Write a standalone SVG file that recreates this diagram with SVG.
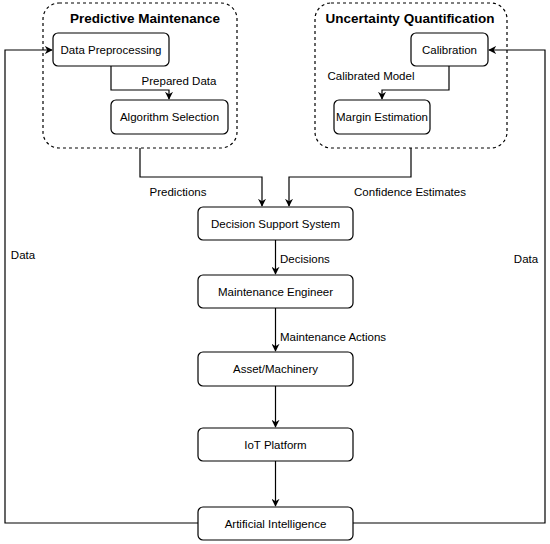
<svg xmlns="http://www.w3.org/2000/svg" width="550" height="544" viewBox="0 0 550 544">
<style>
.node rect{fill:#fff;stroke:#000;stroke-width:1.2}
.cluster rect{fill:none;stroke:#000;stroke-width:1.2;stroke-dasharray:3 3}
text{font-family:"Liberation Sans",Arial,sans-serif;font-size:11.5px;fill:#000}
.t{text-anchor:middle;dominant-baseline:central}
.title{font-weight:bold;font-size:13.5px;text-anchor:middle;dominant-baseline:central}
.edges path{fill:none;stroke:#000;stroke-width:1.2}
</style>
<defs>
<marker id="arr" viewBox="0 0 10 10" refX="9" refY="5" markerWidth="8" markerHeight="8" markerUnits="userSpaceOnUse" orient="auto">
<path d="M0,0 L10,5 L0,10 L3,5 Z" fill="#000"/>
</marker>
</defs>
<rect width="550" height="544" fill="#fff"/>
<g id="cluster-pm" class="cluster"><rect x="43" y="3" width="194" height="145" rx="16"/><text class="title" x="145" y="18">Predictive Maintenance</text></g>
<g id="cluster-uq" class="cluster"><rect x="315" y="3" width="192" height="145" rx="16"/><text class="title" x="410" y="18">Uncertainty Quantification</text></g>
<g class="edges">
<path d="M111,66 V90 H169 V99" marker-end="url(#arr)"/>
<path d="M449,66 V90 H382 V99" marker-end="url(#arr)"/>
<path d="M140,148 V177 H262 V206" marker-end="url(#arr)"/>
<path d="M411,148 V177 H289 V206" marker-end="url(#arr)"/>
<path d="M275.5,240 V274" marker-end="url(#arr)"/>
<path d="M275.5,308 V351" marker-end="url(#arr)"/>
<path d="M275.5,386 V427" marker-end="url(#arr)"/>
<path d="M275.5,461 V506" marker-end="url(#arr)"/>
<path d="M198,523 H5 V50 H52" marker-end="url(#arr)"/>
<path d="M353,523 H545 V50 H489" marker-end="url(#arr)"/>
<text x="179" y="81" class="t">Prepared Data</text>
<text x="371" y="76" class="t">Calibrated Model</text>
<text x="178" y="192" class="t">Predictions</text>
<text x="410" y="192" class="t">Confidence Estimates</text>
<text x="280" y="259" dominant-baseline="central">Decisions</text>
<text x="280" y="337" dominant-baseline="central">Maintenance Actions</text>
<text x="23" y="255" class="t">Data</text>
<text x="526" y="259" class="t">Data</text>
</g>
<g id="n-dp" class="node"><rect x="53" y="33" width="116" height="33" rx="5"/><text class="t" x="111" y="50">Data Preprocessing</text></g>
<g id="n-as" class="node"><rect x="111" y="100" width="117" height="34" rx="5"/><text class="t" x="169.5" y="117">Algorithm Selection</text></g>
<g id="n-cal" class="node"><rect x="411" y="33" width="77" height="33" rx="5"/><text class="t" x="449.5" y="50">Calibration</text></g>
<g id="n-me" class="node"><rect x="334" y="100" width="96" height="34" rx="5"/><text class="t" x="382" y="117">Margin Estimation</text></g>
<g id="n-dss" class="node"><rect x="198" y="207" width="155" height="33" rx="5"/><text class="t" x="275.5" y="224">Decision Support System</text></g>
<g id="n-me2" class="node"><rect x="198" y="275" width="155" height="33" rx="5"/><text class="t" x="275.5" y="292">Maintenance Engineer</text></g>
<g id="n-asset" class="node"><rect x="198" y="352" width="155" height="34" rx="5"/><text class="t" x="275.5" y="369">Asset/Machinery</text></g>
<g id="n-iot" class="node"><rect x="198" y="428" width="155" height="33" rx="5"/><text class="t" x="275.5" y="445">IoT Platform</text></g>
<g id="n-ai" class="node"><rect x="198" y="507" width="155" height="33" rx="5"/><text class="t" x="275.5" y="524">Artificial Intelligence</text></g>
</svg>
